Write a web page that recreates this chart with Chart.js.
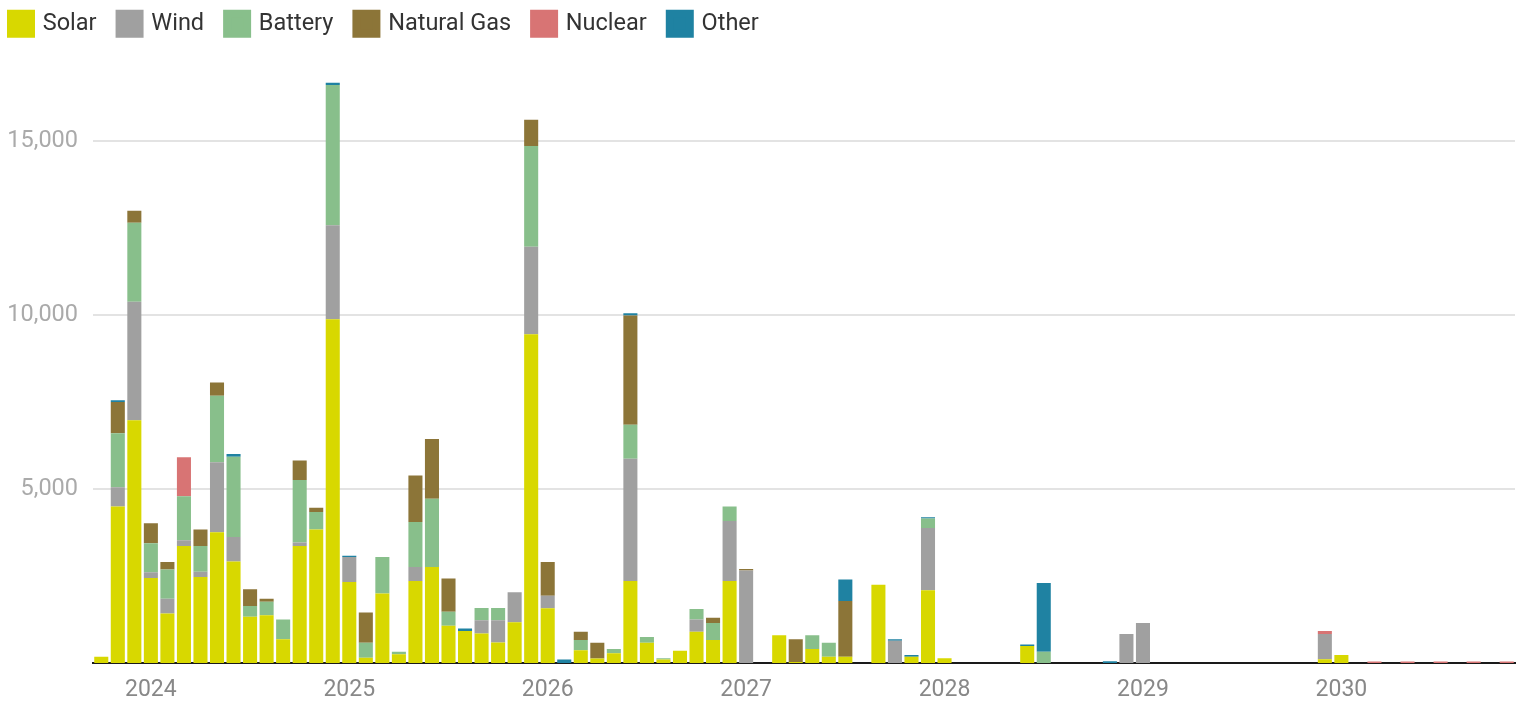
<!DOCTYPE html>
<html>
<head>
<meta charset="utf-8">
<script src="https://cdn.jsdelivr.net/npm/chart.js@4.4.1/dist/chart.umd.min.js"></script>
<style>
html, body { margin: 0; padding: 0; background: #fff; }
#contenedor { width: 1526px; height: 703px; }
</style>
</head>
<body>
<div id="contenedor"><canvas id="g_capacidad"></canvas></div>
<script>
// meses: oct 2023 .. nov 2030
var mes_inicio = [2023, 10];
var total_meses = 86;

// MW por mes, agrupados por año
var solar = [
    180, 4500, 6980,
    2440, 1420, 3360, 2470, 3760, 2920, 1330, 1370, 680, 3360, 3840, 9880,
    2330, 150, 2000, 250, 2360, 2760, 1070, 920, 850, 590, 1170, 9450,
    1570, 0, 370, 130, 280, 2360, 580, 100, 350, 900, 660, 2360,
    0, 0, 800, 30, 400, 180, 180, 0, 2250, 0, 180, 2090,
    140, 0, 0, 0, 0, 490, 0, 0, 0, 0, 0, 0,
    0, 0, 0, 0, 0, 0, 0, 0, 0, 0, 0, 110,
    230, 0, 0, 0, 0, 0, 0, 0, 0, 0, 0
];
var eolica = [
    0, 550, 3400,
    170, 430, 170, 150, 2010, 700, 0, 0, 0, 100, 0, 2700,
    720, 0, 0, 0, 400, 0, 0, 0, 380, 640, 860, 2510,
    360, 0, 0, 0, 0, 3510, 0, 0, 0, 350, 0, 1720,
    2660, 0, 0, 0, 0, 0, 0, 0, 0, 640, 0, 1790,
    0, 0, 0, 0, 0, 0, 0, 0, 0, 0, 0, 830,
    1150, 0, 0, 0, 0, 0, 0, 0, 0, 0, 0, 720,
    0, 0, 0, 0, 0, 0, 0, 0, 0, 0, 0
];
var bateria = [
    0, 1550, 2270,
    830, 840, 1260, 740, 1910, 2310, 310, 390, 570, 1800, 500, 4030,
    0, 430, 1050, 70, 1290, 1960, 400, 0, 350, 350, 0, 2900,
    0, 0, 290, 0, 120, 980, 170, 40, 0, 300, 490, 420,
    0, 0, 0, 0, 400, 400, 0, 0, 0, 0, 0, 270,
    0, 0, 0, 0, 0, 0, 320, 0, 0, 0, 0, 0,
    0, 0, 0, 0, 0, 0, 0, 0, 0, 0, 0, 0,
    0, 0, 0, 0, 0, 0, 0, 0, 0, 0, 0
];
var gas = [
    0, 900, 350,
    580, 210, 0, 480, 380, 0, 480, 90, 0, 560, 120, 0,
    0, 870, 0, 0, 1340, 1720, 960, 0, 0, 0, 0, 750,
    970, 0, 240, 450, 0, 3140, 0, 0, 0, 0, 150, 0,
    40, 0, 0, 650, 0, 0, 1600, 0, 0, 0, 0, 0,
    0, 0, 0, 0, 0, 0, 0, 0, 0, 0, 0, 0,
    0, 0, 0, 0, 0, 0, 0, 0, 0, 0, 0, 0,
    0, 0, 0, 0, 0, 0, 0, 0, 0, 0, 0
];
var nuclear = [
    0, 0, 0,
    0, 0, 1120, 0, 0, 0, 0, 0, 0, 0, 0, 0,
    0, 0, 0, 0, 0, 0, 0, 0, 0, 0, 0, 0,
    0, 0, 0, 0, 0, 0, 0, 0, 0, 0, 0, 0,
    0, 0, 0, 0, 0, 0, 0, 0, 0, 0, 0, 0,
    0, 0, 0, 0, 0, 0, 0, 0, 0, 0, 0, 0,
    0, 0, 0, 0, 0, 0, 0, 0, 0, 0, 0, 90,
    0, 0, 40, 0, 40, 0, 40, 0, 40, 0, 40
];
var otros = [
    0, 50, 0,
    0, 0, 0, 0, 0, 80, 0, 0, 0, 0, 0, 70,
    30, 0, 0, 0, 0, 0, 0, 70, 0, 0, 0, 0,
    0, 100, 0, 0, 0, 60, 0, 0, 0, 0, 0, 0,
    0, 0, 0, 0, 0, 0, 620, 0, 0, 40, 50, 40,
    0, 0, 0, 0, 0, 40, 1980, 0, 0, 0, 50, 0,
    0, 0, 0, 0, 0, 0, 0, 0, 0, 0, 0, 0,
    0, 0, 0, 0, 0, 0, 0, 0, 0, 0, 0
];
var marcas_y = [5000, 10000, 15000];
var nombres = ['Solar', 'Wind', 'Battery', 'Natural Gas', 'Nuclear', 'Other'];
var colores = ['#d8d800', '#a0a0a0', '#88bf8b', '#8c7538', '#d87474', '#1f82a2'];

var labels = [];
for (let i = 0; i < total_meses; i++) {
    var m = mes_inicio[1] - 1 + i;
    var anio = mes_inicio[0] + Math.floor(m / 12);
    var mm = (m % 12) + 1;
    labels.push(anio + '-' + (mm < 10 ? '0' + mm : mm));
}

var series = [solar, eolica, bateria, gas, nuclear, otros];
var datasets = [];
for (let i = 0; i < series.length; i++) {
    datasets.push({
        label: nombres[i],
        data: series[i],
        backgroundColor: colores[i],
        borderWidth: 0,
        barPercentage: 1,
        categoryPercentage: 0.85
    });
}

// corre la leyenda hacia la esquina
var mover_leyenda = {
    id: 'mover_leyenda',
    afterLayout: function (chart) {
        chart.legend.left -= 20;
        chart.legend.top -= 26;
    }
};

Chart.defaults.font.family = 'Roboto';

var ctx = document.getElementById('g_capacidad').getContext('2d');
var myChart = new Chart(ctx, {
    type: 'bar',
    data: { labels: labels, datasets: datasets },
    plugins: [mover_leyenda],
    options: {
        responsive: true,
        maintainAspectRatio: false,
        animation: false,
        layout: { padding: { left: 8, right: 11, top: 15, bottom: 0 } },
        plugins: {
            legend: {
                position: 'top',
                align: 'start',
                labels: {
                    boxWidth: 20,
                    boxHeight: 20,
                    padding: 23,
                    color: '#333',
                    font: { size: 23.5 },
                    generateLabels: function (chart) {
                        var items = Chart.defaults.plugins.legend.labels.generateLabels(chart);
                        items.forEach(function (it) {
                            it.lineWidth = 8;
                            it.strokeStyle = it.fillStyle;
                        });
                        return items;
                    }
                }
            },
            tooltip: { enabled: false }
        },
        scales: {
            x: {
                stacked: true,
                afterFit: function (axis) { axis.height = 40; },
                grid: { display: false, drawTicks: false },
                border: { display: true, color: '#1a1a1a', width: 2 },
                ticks: {
                    autoSkip: false,
                    maxRotation: 0,
                    padding: 13,
                    color: '#888',
                    font: { size: 23 },
                    callback: function (value) {
                        var l = this.getLabelForValue(value);
                        return l.slice(5) === '01' ? l.slice(0, 4) : '';
                    }
                }
            },
            y: {
                stacked: true,
                min: 0,
                max: 17000,
                afterBuildTicks: function (axis) {
                    axis.ticks = marcas_y.map(function (v) { return { value: v }; });
                },
                afterFit: function (axis) { axis.width = 85; },
                grid: { color: '#e3e3e3', lineWidth: 2, drawTicks: false },
                border: { display: false },
                ticks: {
                    padding: 15,
                    color: '#aaa',
                    font: { size: 23.5 },
                    callback: function (value) {
                        return value.toLocaleString('en-US');
                    }
                }
            }
        }
    }
});
</script>
</body>
</html>
